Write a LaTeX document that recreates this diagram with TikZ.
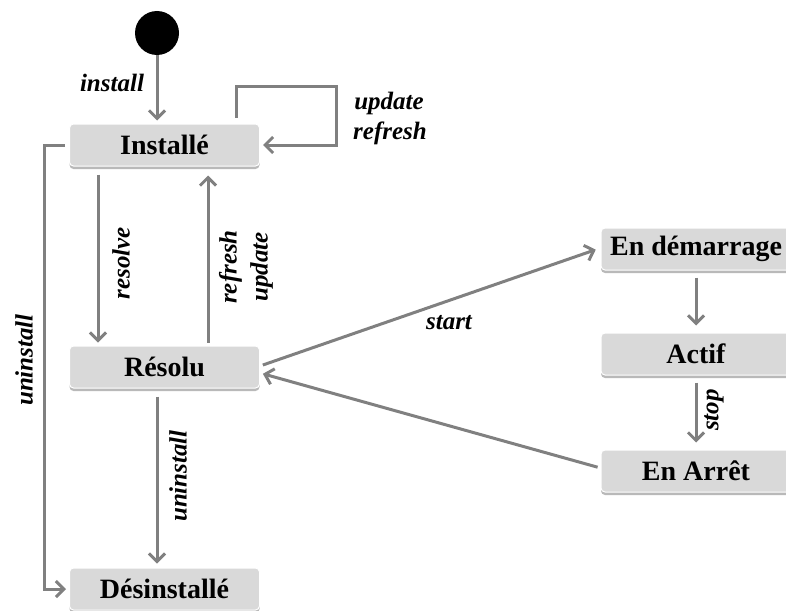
\documentclass[tikz,border=0pt]{standalone}
\usepackage{fontspec}
\setmainfont{Liberation Serif}
\usetikzlibrary{arrows.meta,shadows,calc}
\definecolor{boxgray}{HTML}{D9D9D9}
\definecolor{arrowgray}{HTML}{808080}
\begin{document}
\begin{tikzpicture}[x=1pt,y=-1pt,
 state/.style={fill=boxgray, draw=white, line width=1pt, rounded corners=4pt, minimum width=190pt, minimum height=42pt, inner sep=0pt, font=\fontsize{28}{32}\selectfont\bfseries, drop shadow={shadow xshift=0pt, shadow yshift=-3pt, fill=gray!55, opacity=1}},
 lbl/.style={font=\fontsize{25}{31}\selectfont\bfseries\itshape, inner sep=0pt},
 arr/.style={draw=arrowgray, line width=3pt, -{Straight Barb[length=8pt,width=16pt]}},
]
\useasboundingbox (0,0) rectangle (786,610);
\clip (0,0) rectangle (786,610);
\node[circle, fill=black, minimum size=44pt, inner sep=0pt] (init) at (157,33) {};
\node[state] (inst) at (164.5,145) {Installé};
\node[state] (res) at (164.5,367) {Résolu};
\node[state] (des) at (164.5,589) {Désinstallé};
\node[state] (dem) at (696,249) {En démarrage};
\node[state] (act) at (696,354) {Actif};
\node[state] (stopped) at (696,471) {En Arrêt};
% edges
\draw[arr, shorten >=3pt] (init) -- (init |- inst.north);
\draw[arr, shorten >=3pt] ($(inst.north)+(71.5,-6)$) -- ++(0,-31) -- ++(100,0) |- (inst.east);
\draw[arr, shorten <=8pt, shorten >=3pt] ($(inst.south)+(-66.5,0)$) -- ($(res.north)+(-66.5,0)$);
\draw[arr, shorten <=3pt, shorten >=9pt] ($(res.north)+(43.5,0)$) -- ($(inst.south)+(43.5,0)$);
\draw[arr, shorten <=4pt, shorten >=3pt] (inst.west) -- ++(-25,0) |- (des.west);
\draw[arr, shorten <=8pt, shorten >=4pt] ($(res.south)+(-7.5,0)$) -- ($(des.north)+(-7.5,0)$);
\draw[arr, shorten <=3pt, shorten >=5pt] ($(res.east)+(0,-1)$) -- ($(dem.west)+(0,-1)$);
\draw[arr, shorten <=3pt, shorten >=3pt] ($(stopped.west)+(0,-3)$) -- ($(res.east)+(0,6)$);
\draw[arr, shorten <=7pt, shorten >=7pt] ($(dem.south)+(0,0)$) -- ($(act.north)+(0,0)$);
\draw[arr, shorten <=7pt, shorten >=7pt] ($(act.south)+(0,0)$) -- ($(stopped.north)+(0,0)$);
% labels
\node[lbl] (l1) at (112,83) {install};
\node[lbl] (l2) at (389,103) {update};
\node[lbl] (l3) at (390,133) {refresh};
\node[lbl, rotate=90] (l4) at (121,263) {resolve};
\node[lbl, rotate=90, align=center] (l5) at (246,267) {refresh\\update};
\node[lbl, rotate=90] (l6) at (24,360) {uninstall};
\node[lbl, rotate=90] (l7) at (178,476) {uninstall};
\node[lbl] (l8) at (449,323) {start};
\node[lbl, rotate=90] (l9) at (714,410) {stop};
\end{tikzpicture}
\end{document}
